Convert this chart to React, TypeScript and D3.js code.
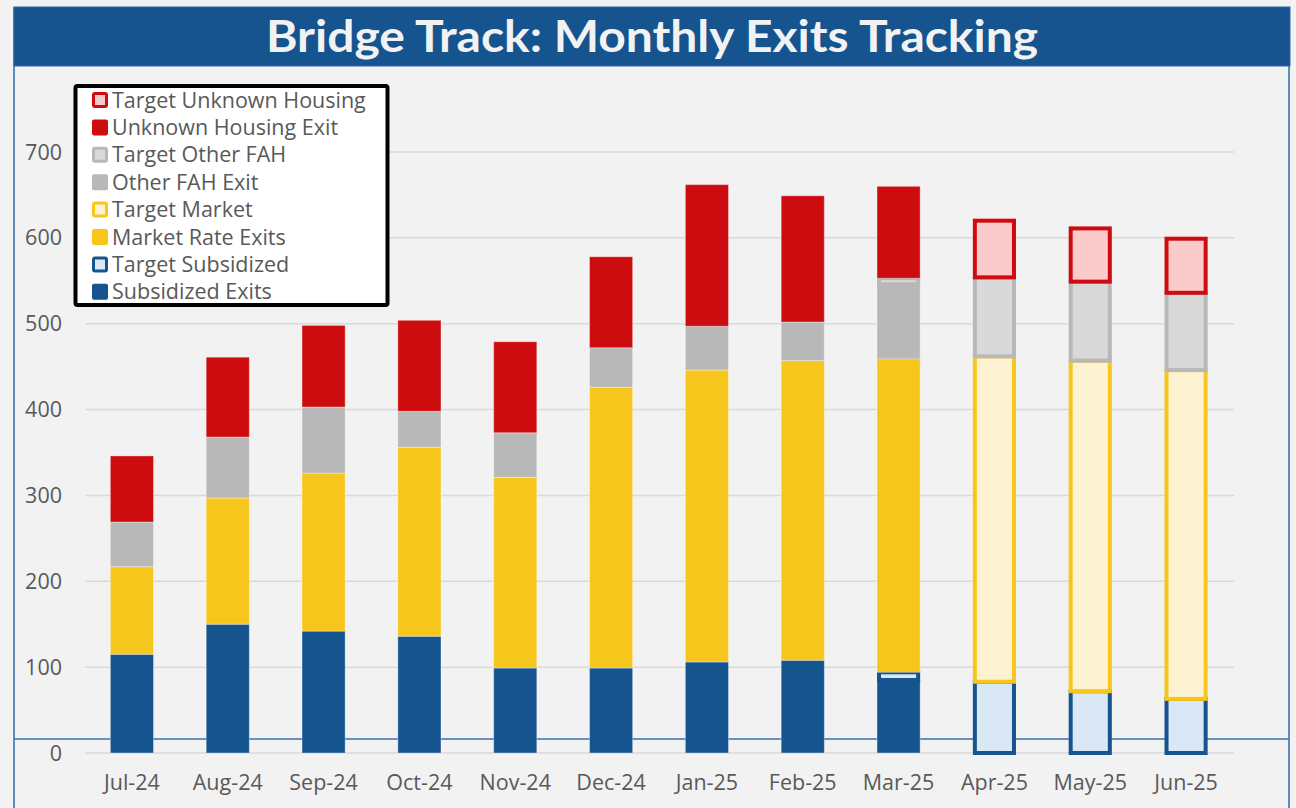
import React from 'react';
import * as d3 from 'd3';

// months on the x axis
const months = ['Jul-24', 'Aug-24', 'Sep-24', 'Oct-24', 'Nov-24', 'Dec-24', 'Jan-25', 'Feb-25', 'Mar-25', 'Apr-25', 'May-25', 'Jun-25'];

// stacked series, bottom to top (targets are the remainder on top of the actual)
const subsidized = [115, 150, 142, 136, 99, 99, 106, 108, 85, 0, 0, 0];
const targetSubsidized = [0, 0, 0, 0, 0, 0, 0, 0, 9, 83, 72, 63];
const marketRate = [102, 147, 184, 220, 222, 327, 340, 349, 362, 0, 0, 0];
const targetMarket = [0, 0, 0, 0, 0, 0, 0, 0, 3, 379, 385, 383];
const otherFah = [52, 71, 77, 42, 52, 46, 51, 45, 87, 0, 0, 0];
const targetOtherFah = [0, 0, 0, 0, 0, 0, 0, 0, 7, 92, 92, 90];
const unknownHousing = [77, 93, 95, 106, 106, 106, 165, 147, 107, 0, 0, 0];
const targetUnknown = [0, 0, 0, 0, 0, 0, 0, 0, 0, 66, 62, 63];

const yTicks = [0, 100, 200, 300, 400, 500, 600, 700];

interface Series {
  key: string;
  label: string;
  values: number[];
  target: boolean;
  color: string;
  light: string;
}

const series: Series[] = [
  { key: 'sub', label: 'Subsidized Exits', values: subsidized, target: false, color: '#15548f', light: '#dae8f5' },
  { key: 'tsub', label: 'Target Subsidized', values: targetSubsidized, target: true, color: '#15548f', light: '#dae8f5' },
  { key: 'mkt', label: 'Market Rate Exits', values: marketRate, target: false, color: '#f6c61c', light: '#fdf2d2' },
  { key: 'tmkt', label: 'Target Market', values: targetMarket, target: true, color: '#f6c61c', light: '#fdf2d2' },
  { key: 'fah', label: 'Other FAH Exit', values: otherFah, target: false, color: '#b8b8b8', light: '#d9d9d9' },
  { key: 'tfah', label: 'Target Other FAH', values: targetOtherFah, target: true, color: '#b8b8b8', light: '#d9d9d9' },
  { key: 'unk', label: 'Unknown Housing Exit', values: unknownHousing, target: false, color: '#cd0c10', light: '#fbcaca' },
  { key: 'tunk', label: 'Target Unknown Housing', values: targetUnknown, target: true, color: '#cd0c10', light: '#fbcaca' },
];

const W = 1296;
const H = 808;
const FONT = '"Open Sans", "DejaVu Sans", sans-serif';

export default function App() {
  const x = d3.scaleBand<string>().domain(months).range([84, 1234]).paddingInner(0.55).paddingOuter(0.275);
  const y = d3.scaleLinear().domain([0, 700]).range([753, 152]);

  const rows = months.map((m, i) => {
    const row: Record<string, number | string> = { month: m };
    series.forEach(s => { row[s.key] = s.values[i]; });
    return row;
  });
  const stacked = d3.stack<Record<string, number | string>>()
    .keys(series.map(s => s.key))(rows as any);

  const bw = x.bandwidth();

  return (
    <svg width={W} height={H} style={{ position: 'fixed', left: 0, top: 0, background: '#f2f2f2' }}>
      <rect x={0} y={0} width={W} height={H} fill="#f2f2f2" />

      {/* frame */}
      <line x1={14} x2={14} y1={7} y2={H} stroke="#2f6aa6" strokeWidth={1.5} />
      <line x1={1289} x2={1289} y1={7} y2={H} stroke="#2f6aa6" strokeWidth={1.5} />

      {/* gridlines */}
      {yTicks.map(t => (
        <line key={t} x1={85} x2={1234} y1={y(t)} y2={y(t)} stroke="#d9d9d9" strokeWidth={1.5} />
      ))}
      <line x1={14} x2={1289} y1={739} y2={739} stroke="#3a70aa" strokeWidth={1.5} />

      {/* y tick labels */}
      {yTicks.map(t => (
        <text key={t} x={62} y={y(t)} dy="0.35em" textAnchor="end" fontFamily={FONT} fontSize={21.5} fill="#595959">{t}</text>
      ))}

      {/* bars */}
      {stacked.map((layer, li) => {
        const s = series[li];
        return (
          <g key={s.key}>
            {layer.map((d, i) => {
              const v = d[1] - d[0];
              if (v <= 0) return null;
              const x0 = x(months[i]) as number;
              const top = y(d[1]);
              const h = y(d[0]) - top;
              if (s.target) {
                return (
                  <rect key={i} x={x0 + 2} y={top} width={bw - 4} height={h}
                    fill={s.light} stroke={s.color} strokeWidth={4} />
                );
              }
              return (
                <rect key={i} x={x0} y={top} width={bw} height={h}
                  fill={s.color} stroke="#ffffff" strokeOpacity={0.35} strokeWidth={1} />
              );
            })}
          </g>
        );
      })}

      {/* x labels */}
      {months.map(m => (
        <text key={m} x={(x(m) as number) + bw / 2} y={790} textAnchor="middle" fontFamily={FONT} fontSize={21.5} fill="#595959">{m}</text>
      ))}

      {/* title bar */}
      <rect x={14} y={7} width={1276} height={59} fill="#15548f" stroke="#2f6aa6" strokeWidth={1} />
      <text x={652} y={37} dy="0.35em" textAnchor="middle" fontFamily='Lato, "Open Sans", sans-serif' fontWeight={700} fontSize={43}
        fill="#f2f2f2" textLength={772} lengthAdjust="spacingAndGlyphs">Bridge Track: Monthly Exits Tracking</text>

      {/* legend */}
      <rect x={75.5} y={86} width={312} height={219} fill="#ffffff" stroke="#000000" strokeWidth={4} rx={2} />
      {series.slice().reverse().map((s, i) => {
        const cy = 100 + i * 27.4;
        return (
          <g key={s.key}>
            {s.target
              ? <rect x={93.5} y={cy - 6.5} width={13} height={13} fill={s.light} stroke={s.color} strokeWidth={3} rx={1.5} />
              : <rect x={92} y={cy - 8} width={16} height={16} fill={s.color} rx={2} />}
            <text x={112} y={cy} dy="0.35em" fontFamily={FONT} fontSize={21.5} fill="#595959">{s.label}</text>
          </g>
        );
      })}
    </svg>
  );
}
